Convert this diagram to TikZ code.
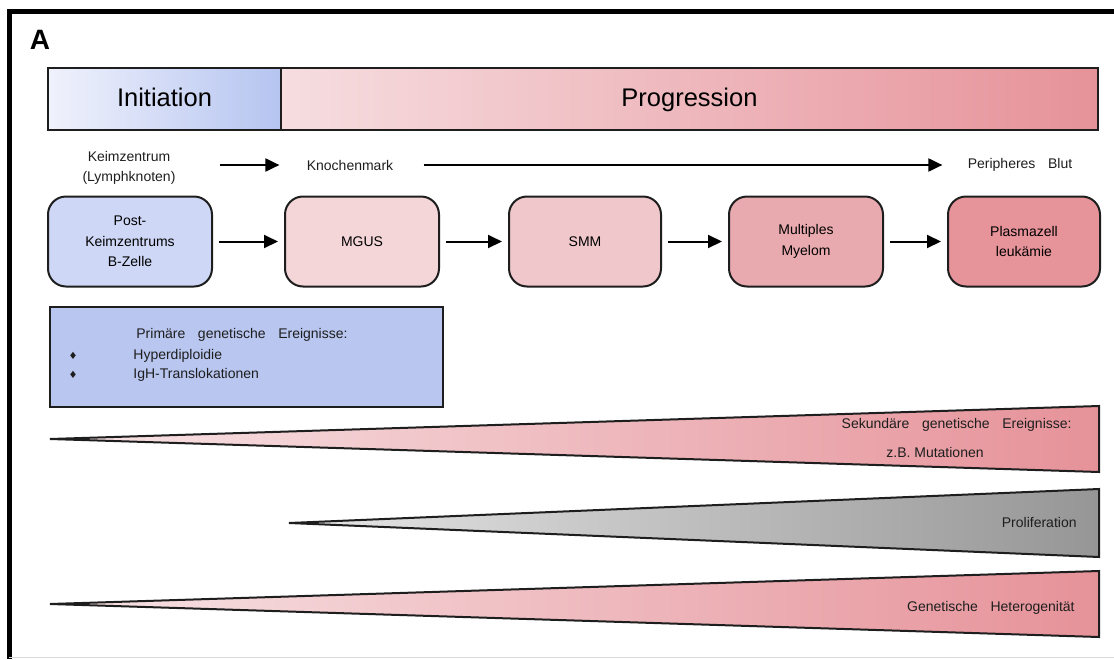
\documentclass[tikz,border=0pt]{standalone}
\usepackage{fontspec}
\setmainfont{Liberation Sans}
\newfontfamily\symfont{DejaVu Sans}
\usetikzlibrary{arrows.meta,shapes}
\definecolor{initL}{RGB}{240,242,252}
\definecolor{initR}{RGB}{181,196,240}
\definecolor{progL}{RGB}{246,221,224}
\definecolor{progR}{RGB}{230,146,153}
\definecolor{stA}{RGB}{206,216,246}
\definecolor{stB}{RGB}{244,214,217}
\definecolor{stC}{RGB}{240,199,203}
\definecolor{stD}{RGB}{233,170,175}
\definecolor{stE}{RGB}{230,147,153}
\definecolor{primfill}{RGB}{184,198,240}
\definecolor{triL}{RGB}{247,228,230}
\definecolor{triR}{RGB}{230,146,153}
\definecolor{grayL}{RGB}{230,230,230}
\definecolor{grayR}{RGB}{150,150,150}
\definecolor{ink}{RGB}{30,30,30}
\tikzstyle{phase}=[draw=ink,line width=1pt,anchor=north west,inner sep=0pt,minimum height=31pt,text height=9.5pt,text depth=2.5pt,font=\fontsize{12.75}{15}\selectfont]
\tikzstyle{stage}=[draw=ink,line width=1pt,rounded corners=9pt,minimum height=45pt,inner sep=0pt,align=center,font=\fontsize{7}{10.3}\selectfont]
\tikzstyle{txt}=[inner sep=0pt,align=center,text=ink,font=\fontsize{7}{10.3}\selectfont]
\tikzstyle{flow}=[draw,line width=1pt,-{Triangle[length=7pt,width=6.5pt]}]
\newcommand{\gap}{\hspace{0.9em}}

\begin{document}
\begin{tikzpicture}[x=0.5pt,y=-0.5pt]
    \useasboundingbox (0,0) rectangle (1114,659);

    % frame
    \draw[line width=2.5pt] (9,659) -- (9,11) -- (1114,11);
    \draw[black!15, line width=0.5pt] (9,657) -- (1114,657);
    \node[font=\bfseries\fontsize{14}{15}\selectfont] (panel) at (40,40) {A};

    % phases
    \node[phase, minimum width=116.5pt, left color=initL, right color=initR] (init) at (47,67) {Initiation};
    \node[phase, minimum width=408.5pt, left color=progL, right color=progR] (prog) at (280,67) {Progression};

    % locations
    \node[txt] (keim) at (129,168) {Keimzentrum\\(Lymphknoten)};
    \node[txt] (knochen) at (350,165) {Knochenmark};
    \node[txt] (blut) at (1020,165) {Peripheres\gap Blut};
    \draw[flow, shorten <=22pt, shorten >=13.5pt] (keim.east |- knochen.west) -- (knochen.west);
    \draw[flow, shorten <=15pt, shorten >=12.5pt] (knochen.east) -- (blut.west);

    % stages
    \foreach \x/\w/\name/\col/\txt in {130/82/pbz/stA/{Post-\\Keimzentrums\\B-Zelle}, 362/77/mgus/stB/MGUS, 585/76/smm/stC/SMM, 806/77/mm/stD/{Multiples\\Myelom}, 1024/76/pcl/stE/{Plasmazell\\leukämie}}
        \node[stage, fill=\col, minimum width=\w pt] (\name) at (\x,241.5) {\txt};

    \foreach \source/\dest in {pbz/mgus, mgus/smm, smm/mm, mm/pcl}
        \draw[flow, shorten <=3pt, shorten >=3pt] (\source) -- (\dest);

    % primary events
    \node[draw=ink, line width=1pt, fill=primfill, anchor=north west, minimum width=196.5pt, minimum height=50pt, inner sep=0pt] (prim) at (49,306) {};
    \node[txt, anchor=west] (primtitle) at (136,335) {Primäre\gap genetische\gap Ereignisse:};
    \foreach \y/\name/\item in {356/hyper/Hyperdiploidie, 375/igh/IgH-Translokationen}{
        \node[txt, font=\symfont\fontsize{5}{6}\selectfont] (\name dot) at (73,\y) {♦};
        \node[txt, anchor=west] (\name) at (133,\y) {\item};
    }

    % wedges
    \foreach \tx/\ty/\top/\bot/\cl/\cr in {50/439/406/472/triL/triR, 289/523/489/557/grayL/grayR, 50/604/571/637/triL/triR}
        \path[draw=ink, line width=1pt, left color=\cl, right color=\cr] (\tx,\ty) -- (1099,\top) -- (1099,\bot) -- cycle;

    \node[txt, anchor=east] (sek) at (1072,425) {Sekundäre\gap genetische\gap Ereignisse:};
    \node[txt] (mut) at (935,452) {z.B. Mutationen};
    \node[txt, anchor=east] (prolif) at (1077,522) {Proliferation};
    \node[txt, anchor=east] (hetero) at (1075,608) {Genetische\gap Heterogenität};
\end{tikzpicture}
\end{document}
